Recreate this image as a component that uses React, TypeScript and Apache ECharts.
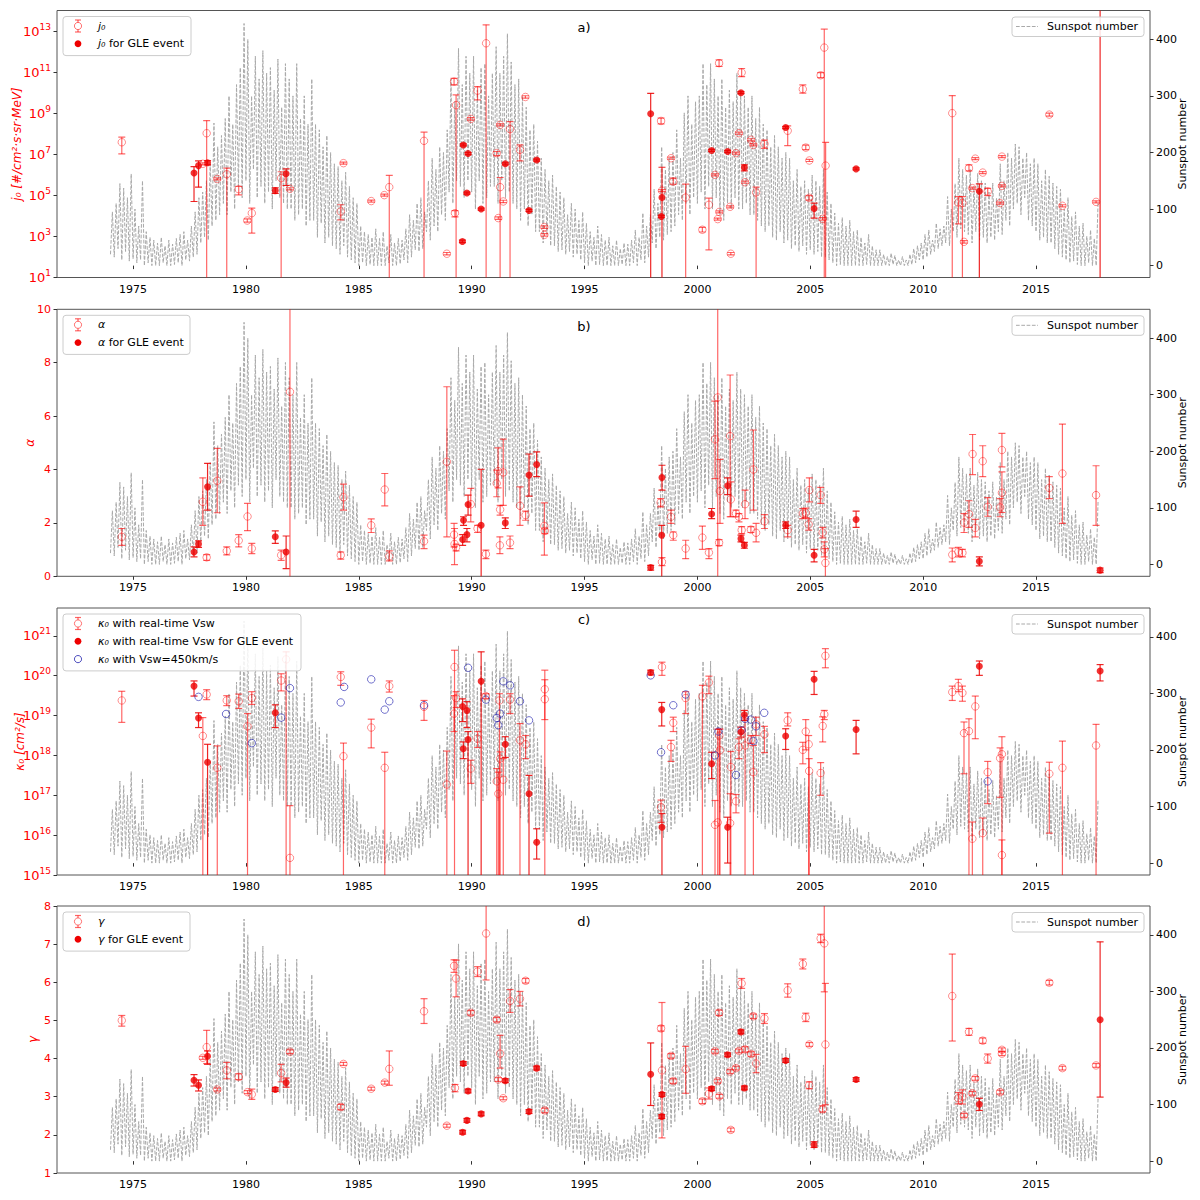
import { useEffect, useRef } from 'react';
import * as echarts from 'echarts';

const FONT = 'DejaVu Sans';
const RED = '#ff0000';
const GLE_RED = '#ee0000';
const OPEN_EDGE = 'rgba(255,0,0,0.55)';
const OPEN_BAR = 'rgba(255,0,0,0.6)';
const GLE_BAR = 'rgba(235,0,0,0.85)';
const BLUE_EDGE = 'rgba(20,20,170,0.75)';
const SSN_COLOR = '#a9a9a9';
const FRAME = '#555555';

const X_MIN = 1971.63;
const X_MAX = 2020.05;
const YEAR_TICKS = [1975, 1980, 1985, 1990, 1995, 2000, 2005, 2010, 2015];
const SSN_TICKS = [0, 100, 200, 300, 400];
const SSN_MIN = -21;
const SSN_MAX = 451;
const SSN_START = 1974;

// sunspot number, 12 samples per year from 1974
const sunspotByYear = [
  [20, 95, 15, 110, 30, 145, 10, 137, 25, 120, 8, 162],
  [12, 100, 5, 70, 10, 150, 0, 60, 5, 50, 0, 45],
  [0, 40, 0, 50, 5, 35, 0, 45, 0, 38, 2, 48],
  [5, 55, 0, 60, 10, 45, 8, 70, 15, 95, 20, 120],
  [40, 130, 50, 150, 45, 180, 70, 252, 80, 210, 90, 230],
  [110, 260, 90, 300, 130, 250, 100, 320, 140, 350, 120, 428],
  [150, 400, 110, 300, 170, 370, 120, 330, 140, 380, 110, 340],
  [130, 350, 100, 310, 150, 365, 120, 280, 110, 357, 100, 330],
  [100, 300, 80, 357, 90, 260, 100, 300, 70, 250, 80, 330],
  [80, 250, 50, 240, 75, 210, 40, 230, 50, 200, 35, 180],
  [30, 175, 20, 150, 35, 165, 15, 140, 10, 120, 5, 110],
  [0, 70, 5, 60, 0, 55, 2, 50, 0, 65, 0, 48],
  [0, 60, 0, 35, 5, 55, 0, 40, 0, 48, 3, 45],
  [10, 65, 5, 90, 15, 80, 28, 110, 25, 120, 30, 95],
  [60, 150, 45, 190, 70, 170, 60, 210, 90, 200, 80, 240],
  [130, 330, 110, 290, 150, 384, 140, 320, 120, 370, 150, 340],
  [130, 370, 100, 310, 150, 350, 110, 357, 120, 300, 140, 340],
  [140, 387, 110, 340, 150, 370, 120, 410, 130, 360, 110, 320],
  [100, 330, 80, 300, 100, 280, 70, 240, 90, 250, 60, 220],
  [60, 190, 40, 170, 55, 150, 35, 160, 35, 140, 25, 130],
  [28, 120, 20, 90, 25, 110, 15, 100, 20, 80, 10, 95],
  [5, 75, 0, 60, 8, 50, 0, 70, 2, 55, 0, 45],
  [0, 50, 0, 35, 0, 45, 0, 30, 2, 40, 0, 38],
  [0, 45, 5, 63, 0, 50, 10, 93, 5, 70, 15, 90],
  [40, 135, 30, 110, 50, 210, 45, 170, 55, 190, 60, 200],
  [70, 240, 90, 190, 80, 270, 110, 300, 90, 250, 120, 290],
  [110, 300, 130, 357, 100, 320, 140, 357, 100, 330, 120, 300],
  [90, 330, 80, 280, 110, 310, 100, 290, 120, 340, 100, 310],
  [100, 300, 110, 280, 90, 300, 90, 260, 80, 280, 70, 250],
  [60, 240, 70, 210, 50, 230, 45, 210, 60, 190, 40, 200],
  [45, 190, 30, 150, 35, 170, 25, 140, 35, 150, 20, 135],
  [28, 160, 20, 150, 25, 140, 15, 170, 15, 130, 10, 110],
  [5, 93, 0, 75, 2, 85, 0, 70, 0, 80, 0, 60],
  [0, 63, 0, 50, 0, 40, 2, 55, 0, 35, 0, 28],
  [0, 28, 0, 20, 0, 16, 0, 22, 2, 18, 0, 10],
  [0, 16, 0, 10, 0, 20, 2, 30, 5, 35, 10, 40],
  [10, 55, 15, 63, 20, 45, 25, 75, 30, 65, 35, 70],
  [40, 122, 35, 100, 60, 145, 50, 190, 65, 170, 60, 160],
  [55, 170, 40, 140, 60, 163, 45, 150, 50, 146, 40, 130],
  [50, 146, 45, 120, 60, 180, 55, 150, 80, 200, 70, 190],
  [100, 215, 110, 210, 90, 190, 120, 200, 80, 180, 70, 190],
  [60, 180, 45, 150, 50, 170, 40, 158, 40, 146, 30, 140],
  [20, 135, 15, 100, 10, 120, 5, 87, 8, 95, 2, 70],
  [0, 75, 0, 52, 5, 63, 0, 48, 0, 113],
];

// rows are [year, value, error low, error high]; j0 and kappa0 are log10 values
const j0Open = [
  [1974.5, 7.6, 7.03, 7.85], [1978.09, 6.55, 6.5, 6.6], [1978.26, 8.04, -3, 8.66],
  [1978.73, 5.81, 5.76, 5.86], [1979.15, 6.04, -3, 6.34], [1979.68, 5.31, 5.03, 5.44],
  [1980.06, 3.78, 3.7, 3.86], [1980.26, 4.14, 3.17, 4.39], [1981.56, 5.85, -3, 6.16],
  [1981.95, 5.33, 5.28, 5.38], [1984.2, 4.22, 3.81, 4.55], [1984.32, 6.58, 6.53, 6.63],
  [1985.55, 4.73, 4.68, 4.78], [1986.13, 5.02, 4.97, 5.07], [1986.35, 5.41, -3, 5.98],
  [1987.89, 7.67, -3, 8.09], [1988.9, 2.16, 2.1, 2.22], [1989.22, 10.56, 10.4, 10.72],
  [1989.31, 9.41, -3, 9.91], [1989.26, 4.14, 3.96, 4.26], [1989.96, 8.74, 8.68, 8.8],
  [1990.26, 10.12, 9.67, 10.32], [1990.64, 12.43, -3, 13.33], [1991.11, 7.07, 6.95, 7.15],
  [1991.18, 3.9, 3.84, 3.96], [1991.26, 5.41, -3, 5.88], [1991.26, 8.45, 8.4, 8.5],
  [1991.4, 4.71, 4.65, 4.77], [1991.7, 8.24, -3, 8.61], [1992.14, 7.23, 6.69, 7.47],
  [1992.38, 9.81, 9.75, 9.87], [1993.22, 3.46, 3.4, 3.52], [1993.22, 3.08, 3.02, 3.14],
  [1998.39, 8.64, 8.5, 8.78], [1998.43, 5.24, 5.19, 5.29], [1998.83, 6.82, 6.77, 6.87],
  [1998.93, 5.68, 5.55, 5.85], [1999.48, 4.9, -3, 5.56], [2000.22, 3.33, 3.22, 3.45],
  [2000.51, 4.55, 2.35, 4.87], [2000.78, 6.01, 5.96, 6.06], [2000.96, 11.46, 11.3, 11.62],
  [2000.9, 3.85, 3.8, 3.9], [2000.97, 4.2, 4.15, 4.25], [2001.45, 4.45, 4.4, 4.5],
  [2001.48, 2.16, 2.1, 2.22], [2001.71, 7.07, 7.02, 7.12], [2001.84, 8.04, 7.99, 8.09],
  [2001.96, 11.0, 10.8, 11.2], [2002.11, 5.65, 5.6, 5.7], [2002.38, 7.72, 7.67, 7.77],
  [2002.48, 7.47, 7.42, 7.52], [2002.6, 5.15, -3, 5.41], [2002.97, 7.52, 7.3, 7.7],
  [2004.0, 8.16, 7.44, 8.4], [2004.67, 10.19, 10.0, 10.4], [2004.8, 7.34, 7.24, 7.46],
  [2004.96, 6.71, 6.66, 6.76], [2004.95, 4.89, 4.78, 5.0], [2005.46, 10.87, 10.75, 11.0],
  [2005.55, 3.86, 3.8, 3.92], [2005.62, 12.22, -3, 13.12], [2005.68, 6.46, -3, 7.59],
  [2011.29, 9.02, -3, 9.88], [2011.56, 4.66, 3.62, 4.95], [2011.74, 4.63, -3, 4.95],
  [2011.81, 2.74, 2.68, 2.8], [2012.03, 6.34, 6.2, 6.5], [2012.18, 5.36, 5.31, 5.41],
  [2012.31, 6.8, 6.75, 6.85], [2012.64, 6.12, 6.07, 6.17], [2012.86, 5.2, 5.0, 5.35],
  [2013.41, 4.63, 4.58, 4.68], [2013.49, 6.9, 6.85, 6.95], [2013.49, 5.47, 5.42, 5.52],
  [2015.59, 8.95, 8.88, 9.02], [2016.17, 4.5, 4.45, 4.55], [2017.66, 4.69, 4.64, 4.74],
];

const j0Gle = [
  [1977.7, 6.1, 4.71, 6.41], [1977.9, 6.46, 5.41, 6.69], [1978.3, 6.6, 6.5, 6.7],
  [1981.3, 5.24, 5.1, 5.38], [1981.78, 6.06, 5.49, 6.3], [1989.59, 2.76, 2.7, 2.82],
  [1989.63, 7.47, 7.42, 7.52], [1989.79, 5.12, 5.07, 5.17], [1989.84, 7.05, 7.0, 7.1],
  [1990.42, 4.34, 4.29, 4.39], [1991.49, 6.55, 6.5, 6.6], [1992.54, 4.27, 4.22, 4.32],
  [1992.88, 6.73, 6.68, 6.78], [1997.93, 8.99, -3, 9.99], [1998.43, 4.9, -3, 6.38],
  [1998.4, 3.98, 3.93, 4.03], [2000.63, 7.2, 7.15, 7.25], [2001.34, 7.15, 7.1, 7.2],
  [2001.93, 10.02, 9.97, 10.07], [2002.08, 6.37, 6.2, 6.5], [2003.91, 8.32, 8.27, 8.37],
  [2005.17, 4.37, 3.9, 4.63], [2007.03, 6.3, 6.25, 6.35], [2012.49, 5.21, -3, 5.57],
  [2017.84, 16, -3, 20],
];

const alphaOpen = [
  [1974.5, 1.48, 1.16, 1.79], [1978.09, 2.79, 1.91, 3.69], [1978.26, 0.71, 0.6, 0.81],
  [1978.73, 3.58, 2.38, 4.79], [1979.15, 0.95, 0.8, 1.1], [1979.68, 1.34, 1.1, 1.56],
  [1980.07, 2.24, 1.71, 2.73], [1980.26, 1.04, 0.85, 1.23], [1981.56, 0.79, 0.6, 0.98],
  [1981.95, 6.91, -1, 11], [1984.2, 0.79, 0.64, 0.91], [1984.32, 2.96, 2.48, 3.45],
  [1985.55, 1.91, 1.64, 2.15], [1986.15, 3.25, 2.64, 3.85], [1986.35, 0.75, 0.58, 0.95],
  [1987.89, 1.31, 1.04, 1.54], [1988.9, 4.29, 1.48, 7.1], [1989.22, 1.56, 1.1, 1.98],
  [1989.24, 1.21, 0.44, 1.79], [1989.31, 1.08, 0.95, 1.2], [1989.96, 2.7, 2.04, 3.29],
  [1990.26, 1.79, 1.64, 1.91], [1990.63, 0.83, 0.66, 0.98], [1991.11, 3.48, 2.98, 3.98],
  [1991.17, 3.94, 3.31, 4.81], [1991.25, 1.16, 0.85, 1.48], [1991.26, 2.5, 2.29, 2.66],
  [1991.4, 3.89, 2.66, 5.14], [1991.7, 1.26, 1.04, 1.51], [1992.14, 2.64, 1.91, 3.35],
  [1992.39, 2.29, 2.1, 2.44], [1993.22, 1.88, 0.79, 2.75], [1993.24, 1.7, 1.6, 1.8],
  [1998.37, 2.76, 2.6, 2.91], [1998.43, 0.54, 0.4, 0.7], [1998.83, 2.23, 1.98, 2.48],
  [1998.93, 1.54, 1.35, 1.66], [1999.48, 1.04, 0.66, 1.35], [2000.22, 1.45, 1.01, 1.88],
  [2000.51, 0.89, 0.66, 1.04], [2000.78, 5.13, 3.66, 6.56], [2000.9, 6.7, -1, 11],
  [2000.96, 1.26, 1.15, 1.37], [2001.0, 3.19, 1.98, 4.38], [2001.45, 5.25, 2.23, 7.54],
  [2001.48, 2.88, 2.23, 3.54], [2001.71, 2.35, 2.23, 2.48], [2001.84, 2.23, 2.04, 2.35],
  [2001.96, 1.73, 1.6, 1.86], [2002.11, 2.7, 2.16, 3.23], [2002.37, 1.75, 1.64, 1.86],
  [2002.48, 4.0, 2.48, 5.48], [2002.6, 1.63, 1.29, 1.98], [2002.97, 2.06, 1.79, 2.31],
  [2004.0, 1.73, 1.48, 1.91], [2004.67, 2.35, 2.16, 2.54], [2004.8, 2.38, 2.2, 2.55],
  [2004.93, 1.94, 1.73, 2.16], [2004.96, 3.23, 2.79, 3.69], [2005.46, 3.04, 2.73, 3.33],
  [2005.55, 1.64, 1.44, 1.83], [2005.62, 1.01, 0.73, 1.29], [2005.67, 0.5, -1, 1.04],
  [2011.29, 0.81, 0.54, 1.06], [2011.56, 0.91, 0.73, 1.08], [2011.74, 0.88, 0.73, 1.01],
  [2011.81, 2.01, 1.64, 2.35], [2012.03, 2.33, 1.83, 2.83], [2012.19, 4.58, 3.81, 5.31],
  [2012.31, 1.81, 1.48, 2.13], [2012.64, 4.31, 3.73, 4.89], [2012.86, 2.6, 2.25, 2.95],
  [2013.41, 2.58, 2.23, 2.91], [2013.49, 4.73, 4.1, 5.35], [2013.49, 3.13, 2.39, 3.91],
  [2015.59, 3.31, 2.91, 3.73], [2016.17, 3.85, 1.98, 5.7], [2017.66, 3.04, 1.91, 4.14],
];

const alphaGle = [
  [1977.7, 0.91, 0.73, 1.1], [1977.9, 1.21, 1.08, 1.33], [1978.3, 3.35, 2.48, 4.23],
  [1981.3, 1.48, 1.23, 1.7], [1981.78, 0.91, 0.29, 1.51], [1989.6, 1.38, 1.16, 1.56],
  [1989.64, 2.1, 1.91, 2.23], [1989.79, 1.56, 1.29, 1.79], [1989.84, 2.69, 2.29, 3.04],
  [1990.42, 1.91, -1, 4.01], [1991.49, 2.0, 1.79, 2.19], [1992.54, 3.79, 3.0, 4.58],
  [1992.88, 4.19, 3.73, 4.66], [1997.93, 0.33, 0.23, 0.41], [1998.43, 3.7, 3.23, 4.16],
  [1998.42, 1.54, -1, 1.91], [2000.63, 2.33, 2.16, 2.54], [2001.34, 3.39, 3.06, 3.69],
  [2001.93, 1.41, 1.29, 1.54], [2002.08, 1.16, 1.05, 1.27], [2003.91, 1.91, 1.79, 2.04],
  [2005.17, 0.79, 0.54, 1.01], [2007.03, 2.13, 1.83, 2.44], [2012.49, 0.56, 0.39, 0.73],
  [2017.84, 0.23, 0.14, 0.31],
];

const kappaOpen = [
  [1974.5, 19.38, 18.83, 19.61], [1978.09, 18.49, 10, 18.95], [1978.26, 19.53, 19.4, 19.65],
  [1978.73, 17.69, 10, 18.24], [1979.15, 19.38, 19.25, 19.5], [1979.68, 19.36, 19.18, 19.54],
  [1980.07, 18.73, 10, 19.05], [1980.26, 19.44, 19.28, 19.6], [1981.56, 19.88, 19.62, 20.05],
  [1981.78, 20.41, 10, 20.6], [1981.95, 15.43, 10, 16.74], [1984.2, 19.97, 19.76, 20.1],
  [1984.32, 17.98, 10, 18.31], [1985.55, 18.7, 18.19, 18.91], [1986.15, 17.69, 10, 18.08],
  [1986.35, 19.74, 19.59, 19.87], [1987.89, 19.22, 18.88, 19.38], [1988.9, 17.27, 10, 18.11],
  [1989.24, 20.22, 10, 20.64], [1989.22, 19.05, 18.6, 19.5], [1989.31, 19.44, 19.2, 19.6],
  [1989.96, 17.67, 17.3, 17.88], [1990.26, 18.42, 18.2, 18.6], [1990.63, 19.49, 19.43, 19.55],
  [1991.11, 17.35, 10, 17.67], [1991.18, 17.04, 10, 17.58], [1991.23, 19.38, 10, 19.55],
  [1991.26, 17.92, 10, 18.09], [1991.4, 17.39, 10, 17.92], [1991.7, 19.4, 19.05, 19.55],
  [1992.14, 18.38, 10, 18.8], [1992.39, 18.28, 17.92, 18.5], [1993.24, 19.66, 10, 20.14],
  [1993.24, 19.41, 18.9, 19.9], [1998.43, 20.22, 20.01, 20.34], [1998.39, 16.7, 16.32, 16.88],
  [1998.93, 18.82, 18.6, 18.96], [1998.83, 18.21, 17.85, 18.38], [1999.48, 19.44, 19.05, 19.6],
  [2000.22, 19.48, 10, 19.76], [2000.51, 19.83, 19.55, 19.99], [2000.78, 16.26, 10, 16.87],
  [2000.9, 16.32, 10, 18.66], [2000.97, 18.5, 10, 18.66], [2001.0, 18.13, 10, 18.66],
  [2001.45, 16.3, 10, 17.04], [2001.48, 17.71, 10, 18.1], [2001.71, 16.85, 16.56, 17.02],
  [2001.84, 18.21, 17.92, 18.42], [2002.11, 18.25, 10, 18.92], [2002.38, 18.4, 18.3, 18.5],
  [2002.48, 17.58, 10, 18.25], [2002.6, 18.78, 18.5, 18.96], [2002.97, 18.53, 18.07, 18.73],
  [2004.0, 18.88, 18.74, 19.07], [2004.67, 18.14, 17.79, 18.33], [2004.8, 18.6, 18.14, 18.9],
  [2004.93, 18.28, 10, 18.5], [2004.95, 17.61, 10, 17.92], [2005.46, 17.56, 17.0, 17.82],
  [2005.55, 18.74, 18.34, 18.97], [2005.62, 19.03, 18.9, 19.13], [2005.67, 20.5, 20.2, 20.68],
  [2011.29, 19.59, 19.38, 19.74], [2011.56, 19.74, 19.6, 19.91], [2011.74, 19.57, 19.36, 19.74],
  [2011.81, 18.56, 17.54, 18.84], [2012.03, 18.61, 10, 18.92], [2012.18, 15.91, 10, 16.33],
  [2012.31, 19.23, 18.42, 19.49], [2012.64, 16.05, 10, 16.43], [2012.86, 17.58, 16.79, 17.85],
  [2013.41, 17.93, 16.95, 18.19], [2013.49, 18.03, 10, 18.47], [2013.49, 15.5, 10, 15.88],
  [2015.59, 17.54, 16.05, 17.83], [2016.17, 17.69, 10, 18.36], [2017.66, 18.25, 10, 18.78],
];

const kappaGle = [
  [1977.7, 19.74, 19.49, 19.87], [1977.9, 18.94, 18.7, 19.07], [1978.3, 17.83, 10, 18.28],
  [1981.3, 19.07, 18.7, 19.27], [1989.6, 19.23, 18.85, 19.42], [1989.63, 18.17, 17.92, 18.34],
  [1989.79, 19.13, 18.7, 19.35], [1989.84, 18.4, 10, 18.6], [1990.42, 19.86, 10, 20.6],
  [1991.49, 18.28, 17.95, 18.47], [1992.54, 17.04, 10, 17.5], [1992.88, 15.82, 15.4, 16.16],
  [1997.93, 20.08, 20.02, 20.14], [1998.42, 19.15, 18.74, 19.33], [1998.43, 16.2, 10, 16.54],
  [2000.63, 17.79, 17.42, 18.08], [2001.34, 16.2, 15.3, 16.45], [2001.93, 18.59, 18.46, 18.71],
  [2002.08, 19.02, 18.88, 19.13], [2003.91, 18.49, 18.15, 18.67], [2005.17, 19.91, 19.53, 20.11],
  [2007.03, 18.65, 18.04, 18.88], [2012.49, 20.24, 20.01, 20.37], [2017.84, 20.12, 19.87, 20.28],
];

// kappa0 with Vsw = 450 km/s, [year, log10 kappa0]
const kappaFixedVsw = [
  [1977.9, 19.47], [1979.12, 19.04], [1980.26, 18.31], [1981.56, 18.95], [1981.95, 19.69],
  [1984.2, 19.33], [1984.35, 19.72], [1985.55, 19.91], [1986.15, 19.15], [1986.35, 19.36],
  [1987.89, 19.26], [1989.84, 20.2], [1990.63, 19.4], [1991.11, 18.94], [1991.18, 18.76],
  [1991.26, 19.05], [1991.4, 19.86], [1991.7, 19.76], [1992.14, 19.36], [1992.54, 18.88],
  [1997.93, 20.01], [1998.39, 18.08], [1998.93, 19.26], [1999.48, 19.53], [2000.78, 18.0],
  [2000.93, 18.6], [2001.71, 17.51], [2001.96, 18.63], [2002.11, 18.92], [2002.37, 18.9],
  [2002.48, 18.36], [2002.6, 18.73], [2002.96, 19.07], [2012.86, 17.35],
];

const gammaOpen = [
  [1974.5, 5.0, 4.85, 5.13], [1978.09, 4.02, 3.98, 4.06], [1978.26, 4.3, 3.87, 4.74],
  [1978.73, 3.19, 3.15, 3.23], [1979.15, 3.69, 3.47, 3.9], [1979.68, 3.52, 3.45, 3.6],
  [1980.07, 3.12, 3.08, 3.16], [1980.26, 3.06, 2.93, 3.2], [1981.56, 3.62, 3.39, 3.85],
  [1981.95, 4.18, 4.13, 4.23], [1984.2, 2.73, 2.66, 2.8], [1984.32, 3.86, 3.82, 3.9],
  [1985.55, 3.21, 3.17, 3.25], [1986.15, 3.37, 3.33, 3.41], [1986.35, 3.73, 3.3, 4.2],
  [1987.89, 5.24, 4.92, 5.57], [1988.9, 2.24, 2.2, 2.28], [1989.22, 6.43, 6.26, 6.59],
  [1989.31, 6.1, 5.62, 6.58], [1989.26, 3.23, 3.13, 3.32], [1989.96, 5.2, 5.14, 5.26],
  [1990.26, 6.28, 6.15, 6.41], [1990.64, 7.28, 6.06, 8.3], [1991.11, 5.02, 4.96, 5.08],
  [1991.26, 4.13, 3.75, 4.61], [1991.18, 3.45, 3.4, 3.5], [1991.4, 2.96, 2.92, 3.0],
  [1991.7, 5.51, 5.21, 5.81], [1992.14, 5.57, 5.38, 5.76], [1992.39, 6.04, 5.98, 6.1],
  [1993.24, 2.64, 2.58, 2.7], [1998.39, 4.79, 4.72, 4.86], [1998.43, 3.69, 1.92, 5.47],
  [1998.83, 4.07, 4.01, 4.13], [1998.93, 3.41, 3.35, 3.47], [1999.48, 3.72, 3.09, 4.32],
  [2000.22, 2.88, 2.82, 2.94], [2000.51, 3.08, 2.94, 3.23], [2000.78, 4.19, 4.14, 4.24],
  [2000.9, 3.41, 3.36, 3.46], [2000.96, 5.2, 5.13, 5.27], [2000.97, 3.01, 2.96, 3.06],
  [2001.45, 3.66, 3.61, 3.71], [2001.48, 2.13, 2.08, 2.18], [2001.71, 3.75, 3.7, 3.8],
  [2001.84, 4.2, 4.15, 4.25], [2001.96, 5.97, 5.84, 6.1], [2002.11, 4.24, 4.17, 4.31],
  [2002.38, 4.12, 4.06, 4.18], [2002.48, 5.11, 5.05, 5.17], [2002.6, 3.87, 3.63, 4.11],
  [2002.97, 5.05, 4.92, 5.18], [2004.0, 5.79, 5.61, 5.96], [2004.67, 6.48, 6.35, 6.61],
  [2004.8, 5.08, 4.97, 5.19], [2004.96, 4.37, 4.32, 4.42], [2004.95, 3.3, 3.21, 3.39],
  [2005.46, 7.15, 7.04, 7.26], [2005.55, 2.67, 2.6, 2.76], [2005.62, 7.02, 5.75, 8.5],
  [2005.67, 4.37, 2.79, 5.97], [2011.29, 5.64, 4.46, 6.74], [2011.56, 2.96, 2.81, 3.11],
  [2011.74, 3.0, 2.81, 3.18], [2011.81, 2.51, 2.46, 2.56], [2012.03, 4.7, 4.61, 4.79],
  [2012.18, 3.09, 3.04, 3.14], [2012.31, 3.48, 3.43, 3.53], [2012.64, 4.47, 4.4, 4.54],
  [2012.86, 4.0, 3.88, 4.12], [2013.41, 3.12, 3.07, 3.17], [2013.49, 4.23, 4.18, 4.28],
  [2013.49, 4.13, 4.08, 4.18], [2015.59, 5.99, 5.93, 6.05], [2016.17, 3.75, 3.7, 3.8],
  [2017.66, 3.82, 3.77, 3.87],
];

const gammaGle = [
  [1977.7, 3.43, 3.28, 3.58], [1977.9, 3.3, 3.15, 3.44], [1978.3, 4.06, 3.85, 4.2],
  [1981.3, 3.19, 3.14, 3.24], [1981.78, 3.37, 3.25, 3.49], [1989.6, 2.07, 2.02, 2.12],
  [1989.63, 3.87, 3.82, 3.92], [1989.79, 2.38, 2.33, 2.43], [1989.84, 3.15, 3.1, 3.2],
  [1990.42, 2.55, 2.5, 2.6], [1991.49, 3.42, 3.37, 3.47], [1992.54, 2.61, 2.56, 2.66],
  [1992.88, 3.75, 3.7, 3.8], [1997.93, 3.59, 2.77, 4.41], [1998.43, 3.06, 3.01, 3.11],
  [1998.42, 2.48, 2.43, 2.53], [2000.63, 3.21, 3.16, 3.26], [2001.34, 4.1, 4.05, 4.15],
  [2001.93, 4.7, 4.65, 4.75], [2002.08, 3.23, 3.18, 3.28], [2003.91, 3.95, 3.9, 4.0],
  [2005.17, 1.74, 1.67, 1.82], [2007.03, 3.45, 3.4, 3.5], [2012.49, 2.8, 2.64, 2.96],
  [2017.84, 5.02, 2.99, 7.06],
];

const PLOT_LEFT = 57;
const PLOT_RIGHT = 1150;
const PLOT_H = 267;

const PANELS = [
  {
    top: 10.5, min: 1, max: 14.03, ticks: [1, 3, 5, 7, 9, 11, 13], log: true,
    open: j0Open, gle: j0Gle, fixed: [] as number[][],
    tag: 'a)', tagY: 27.3, name: 'j₀ [#/cm²·s·sr·MeV]', nameX: 17, boxW: 128,
    legend: ['{i|j₀}', '{i|j₀} for GLE event'],
  },
  {
    top: 309.3, min: 0, max: 10, ticks: [0, 2, 4, 6, 8, 10], log: false,
    open: alphaOpen, gle: alphaGle, fixed: [] as number[][],
    tag: 'b)', tagY: 326.7, name: 'α', nameX: 30, boxW: 127,
    legend: ['{i|α}', '{i|α} for GLE event'],
  },
  {
    top: 608, min: 15, max: 21.7, ticks: [15, 16, 17, 18, 19, 20, 21], log: true,
    open: kappaOpen, gle: kappaGle, fixed: kappaFixedVsw,
    tag: 'c)', tagY: 619.5, name: 'κ₀ [cm²/s]', nameX: 20, boxW: 238,
    legend: ['{i|κ₀} with real-time Vsw', '{i|κ₀} with real-time Vsw for GLE event', '{i|κ₀} with Vsw=450km/s'],
  },
  {
    top: 906, min: 1, max: 8, ticks: [1, 2, 3, 4, 5, 6, 7, 8], log: false,
    open: gammaOpen, gle: gammaGle, fixed: [] as number[][],
    tag: 'd)', tagY: 921, name: 'γ', nameX: 33, boxW: 127,
    legend: ['{i|γ}', '{i|γ} for GLE event'],
  },
];

function errorBars(data: number[][], idx: number, color: string, z: number) {
  return {
    type: 'custom',
    xAxisIndex: idx,
    yAxisIndex: idx * 2,
    data,
    clip: true,
    silent: true,
    z,
    renderItem: (_params: any, api: any) => {
      const x = api.value(0);
      const hi = api.coord([x, api.value(3)]);
      const lo = api.coord([x, api.value(2)]);
      const style = { stroke: color, lineWidth: 1.2 };
      return {
        type: 'group',
        children: [
          { type: 'line', shape: { x1: hi[0], y1: hi[1], x2: lo[0], y2: lo[1] }, style },
          { type: 'line', shape: { x1: hi[0] - 3.5, y1: hi[1], x2: hi[0] + 3.5, y2: hi[1] }, style },
          { type: 'line', shape: { x1: lo[0] - 3.5, y1: lo[1], x2: lo[0] + 3.5, y2: lo[1] }, style },
        ],
      };
    },
  };
}

function textStyle(extra: any) {
  return { fontFamily: FONT, fill: '#000', textAlign: 'left', textVerticalAlign: 'middle', align: 'left', verticalAlign: 'middle', ...extra };
}

function legendGraphics(p: (typeof PANELS)[number]) {
  const els: any[] = [];
  const boxY = p.top + 6;
  const rowH = 17.8;
  els.push({
    type: 'rect', z: 100,
    shape: { x: 63, y: boxY, width: p.boxW, height: rowH * p.legend.length + 3.5, r: 3 },
    style: { fill: 'rgba(255,255,255,0.85)', stroke: '#cccccc', lineWidth: 1 },
  });
  p.legend.forEach((label, k) => {
    const y = p.top + 15.5 + rowH * k;
    const x = 78;
    if (k === 0) {
      const s = { stroke: OPEN_BAR, lineWidth: 1.2 };
      els.push({ type: 'line', z: 101, shape: { x1: x, y1: y - 6, x2: x, y2: y + 6 }, style: s });
      els.push({ type: 'line', z: 101, shape: { x1: x - 3, y1: y - 6, x2: x + 3, y2: y - 6 }, style: s });
      els.push({ type: 'line', z: 101, shape: { x1: x - 3, y1: y + 6, x2: x + 3, y2: y + 6 }, style: s });
      els.push({ type: 'circle', z: 101, shape: { cx: x, cy: y, r: 3.6 }, style: { fill: '#fff', stroke: OPEN_EDGE, lineWidth: 1 } });
    } else if (k === 1) {
      els.push({ type: 'circle', z: 101, shape: { cx: x, cy: y, r: 3.4 }, style: { fill: GLE_RED } });
    } else {
      els.push({ type: 'circle', z: 101, shape: { cx: x, cy: y, r: 3.6 }, style: { fill: 'none', stroke: BLUE_EDGE, lineWidth: 1 } });
    }
    els.push({
      type: 'text', z: 101, x: 98, y,
      style: textStyle({ text: label, fontSize: 11, rich: { i: { fontStyle: 'italic', fontSize: 11, fontFamily: FONT } } }),
    });
  });
  // sunspot legend on the right
  els.push({
    type: 'rect', z: 100,
    shape: { x: 1012, y: p.top + 6.5, width: 132, height: 19.5, r: 3 },
    style: { fill: 'rgba(255,255,255,0.85)', stroke: '#cccccc', lineWidth: 1 },
  });
  els.push({
    type: 'line', z: 101,
    shape: { x1: 1016, y1: p.top + 16, x2: 1038, y2: p.top + 16 },
    style: { stroke: SSN_COLOR, lineWidth: 1, lineDash: [3.7, 1.6] },
  });
  els.push({ type: 'text', z: 101, x: 1047, y: p.top + 16, style: textStyle({ text: 'Sunspot number', fontSize: 11 }) });
  return els;
}

function buildOption(): any {
  const ssnData = sunspotByYear.flat().map((s, i) => [SSN_START + i / 12, s]);
  const grid: any[] = [];
  const xAxis: any[] = [];
  const yAxis: any[] = [];
  const series: any[] = [];
  const graphic: any[] = [];

  PANELS.forEach((p, i) => {
    grid.push({
      left: PLOT_LEFT, width: PLOT_RIGHT - PLOT_LEFT, top: p.top, height: PLOT_H,
      show: true, borderColor: FRAME, borderWidth: 1, backgroundColor: 'rgba(0,0,0,0)',
    });
    xAxis.push({
      type: 'value', gridIndex: i, min: X_MIN, max: X_MAX,
      axisLine: { show: false }, splitLine: { show: false },
      axisTick: { show: true, customValues: YEAR_TICKS, length: 3.5, lineStyle: { color: '#333' } },
      axisLabel: {
        customValues: YEAR_TICKS, fontSize: 11, color: '#000', margin: 6, fontFamily: FONT,
        formatter: (v: number) => String(Math.round(v)),
      },
    });
    yAxis.push({
      type: 'value', gridIndex: i, position: 'left', min: p.min, max: p.max,
      axisLine: { show: false }, splitLine: { show: false },
      axisTick: { show: true, customValues: p.ticks, length: 3.5, lineStyle: { color: '#333' } },
      axisLabel: p.log
        ? {
            customValues: p.ticks, margin: 6, color: RED,
            formatter: (v: number) => `{b|10}{s|${Math.round(v)}}`,
            rich: {
              b: { fontSize: 13, color: RED, fontFamily: FONT, lineHeight: 18 },
              s: { fontSize: 9, color: RED, fontFamily: FONT, lineHeight: 10, verticalAlign: 'top' },
            },
          }
        : { customValues: p.ticks, margin: 6, color: RED, fontSize: 11, fontFamily: FONT },
    });
    yAxis.push({
      type: 'value', gridIndex: i, position: 'right', min: SSN_MIN, max: SSN_MAX,
      axisLine: { show: false }, splitLine: { show: false },
      axisTick: { show: true, customValues: SSN_TICKS, length: 3.5, lineStyle: { color: '#333' } },
      axisLabel: { customValues: SSN_TICKS, margin: 6, color: '#000', fontSize: 11, fontFamily: FONT },
    });

    series.push({
      type: 'line', xAxisIndex: i, yAxisIndex: i * 2 + 1, data: ssnData,
      showSymbol: false, symbol: 'none', silent: true, z: 2,
      lineStyle: { color: SSN_COLOR, width: 1, type: [3.7, 1.6] },
    });
    series.push(errorBars(p.open, i, OPEN_BAR, 3));
    series.push(errorBars(p.gle, i, GLE_BAR, 4));
    series.push({
      type: 'scatter', xAxisIndex: i, yAxisIndex: i * 2, silent: true, z: 5,
      data: p.open.map((d) => [d[0], d[1]]),
      symbol: 'circle', symbolSize: 7.5,
      itemStyle: { color: 'rgba(255,255,255,0)', borderColor: OPEN_EDGE, borderWidth: 1 },
    });
    if (p.fixed.length) {
      series.push({
        type: 'scatter', xAxisIndex: i, yAxisIndex: i * 2, silent: true, z: 5,
        data: p.fixed,
        symbol: 'circle', symbolSize: 7.5,
        itemStyle: { color: 'rgba(255,255,255,0)', borderColor: BLUE_EDGE, borderWidth: 1 },
      });
    }
    series.push({
      type: 'scatter', xAxisIndex: i, yAxisIndex: i * 2, silent: true, z: 6,
      data: p.gle.map((d) => [d[0], d[1]]),
      symbol: 'circle', symbolSize: 7,
      itemStyle: { color: GLE_RED },
    });

    const cy = p.top + PLOT_H / 2;
    graphic.push({
      type: 'text', z: 101, x: 584, y: p.tagY,
      style: textStyle({ text: p.tag, fontSize: 13, textAlign: 'center', align: 'center' }),
    });
    graphic.push({
      type: 'text', z: 101, x: p.nameX, y: cy, rotation: Math.PI / 2,
      style: textStyle({ text: p.name, fontSize: 12, fontStyle: 'italic', fill: RED, textAlign: 'center', align: 'center' }),
    });
    graphic.push({
      type: 'text', z: 101, x: 1182, y: cy, rotation: Math.PI / 2,
      style: textStyle({ text: 'Sunspot number', fontSize: 11, textAlign: 'center', align: 'center' }),
    });
    graphic.push(...legendGraphics(p));
  });

  return { animation: false, backgroundColor: '#fff', grid, xAxis, yAxis, series, graphic };
}

export default function App() {
  const chartRef = useRef<HTMLDivElement>(null);

  useEffect(() => {
    if (!chartRef.current) return;
    const chart = echarts.init(chartRef.current, null, { renderer: 'svg' });
    chart.setOption(buildOption());
    return () => {
      chart.dispose();
    };
  }, []);

  return (
    <div
      ref={chartRef}
      style={{ position: 'absolute', left: 0, top: 0, width: 1200, height: 1200, background: '#fff' }}
    />
  );
}
